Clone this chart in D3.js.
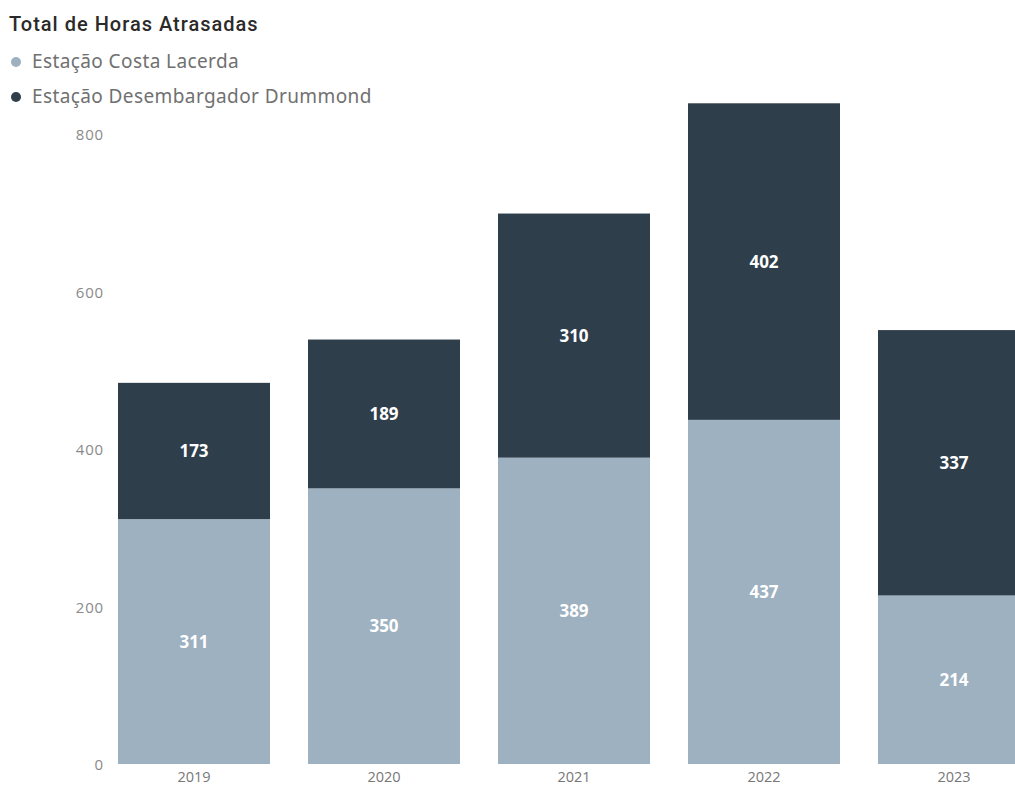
<!DOCTYPE html>
<html><head><meta charset="utf-8">
<script src="https://cdn.jsdelivr.net/npm/d3@7"></script>
<style>
body{margin:0;background:#fff;overflow:hidden}
svg{display:block}
</style></head>
<body>
<svg id="c" width="1015" height="787"></svg>
<script>
const title = "Total de Horas Atrasadas";
const years = ["2019","2020","2021","2022","2023"];
const seriesNames = ["Estação Costa Lacerda","Estação Desembargador Drummond"];
const costaLacerda = [311,350,389,437,214];
const drummond = [173,189,310,402,337];
const yTicks = [0,200,400,600,800];
const colors = ["#9DB1C0","#2F3E4B"];

const svg = d3.select("#c");
const x = d3.scaleBand().domain(years).range([99,1049]).paddingInner(0.2).paddingOuter(0.1);
const y = d3.scaleLinear().domain([0,800]).range([764,134]);

svg.append("rect").attr("width",1015).attr("height",787).attr("fill","#fff");

// title
svg.append("text").attr("x",9).attr("y",31).text(title)
  .attr("font-family","Roboto,sans-serif").attr("font-weight",500)
  .attr("font-size",20).attr("letter-spacing",1.0).attr("fill","#2b2a29");

// legend
const leg = svg.append("g");
seriesNames.forEach((n,i)=>{
  const cy = 62 + i*35;
  leg.append("circle").attr("cx",16).attr("cy",cy).attr("r",5).attr("fill",colors[i]);
  leg.append("text").attr("x",32).attr("y",cy+6).text(n)
    .attr("font-family","'Noto Sans',sans-serif").attr("font-size",19)
    .attr("letter-spacing",0.4).attr("fill","#707070");
});

// stacking
const data = years.map((yr,i)=>({year:yr, a:costaLacerda[i], b:drummond[i]}));
const stack = d3.stack().keys(["a","b"])(data);

const g = svg.append("g");
stack.forEach((s,si)=>{
  g.selectAll(null).data(s).enter().append("rect")
    .attr("x",d=>x(d.data.year)).attr("width",x.bandwidth())
    .attr("y",d=>y(d[1])).attr("height",d=>y(d[0])-y(d[1]))
    .attr("fill",colors[si]);
  g.selectAll(null).data(s).enter().append("text")
    .attr("x",d=>x(d.data.year)+x.bandwidth()/2)
    .attr("y",d=>(y(d[0])+y(d[1]))/2+6)
    .attr("text-anchor","middle")
    .attr("font-family","'Open Sans',sans-serif").attr("font-weight","bold")
    .attr("font-size",17).attr("fill","#fff")
    .text(d=>d[1]-d[0]);
});

// y axis
const ya = svg.append("g").attr("transform","translate(104,1)")
  .call(d3.axisLeft(y).tickValues(yTicks).tickSize(0).tickPadding(0));
ya.select(".domain").remove();
ya.selectAll("text").attr("font-family","'Open Sans',sans-serif").attr("font-size",15)
  .attr("letter-spacing",0.8).attr("fill","#8a8a8a").attr("dy","0.32em");

// x axis
const xa = svg.append("g").attr("transform","translate(0,772)")
  .call(d3.axisBottom(x).tickSize(0).tickPadding(0));
xa.select(".domain").remove();
xa.selectAll("text").attr("font-family","'Open Sans',sans-serif").attr("font-size",14.5)
  .attr("fill","#777").attr("dy","0.71em");
</script>
</body></html>
